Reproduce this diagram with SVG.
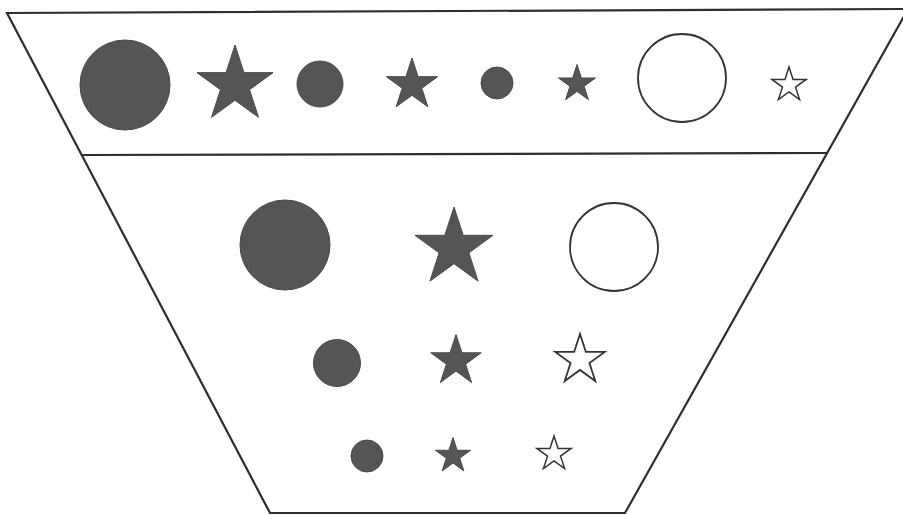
<svg xmlns="http://www.w3.org/2000/svg" width="903" height="515" viewBox="0 0 903 515">
<defs>
<style>
.frame{fill:none;stroke:#2e2e2e;stroke-width:2.2;stroke-linejoin:miter}
.fill{fill:#555555;stroke:#4a4a4a;stroke-width:1;vector-effect:non-scaling-stroke}
.open{fill:#ffffff;stroke:#333333;stroke-width:1.8;vector-effect:non-scaling-stroke}
.openthin{fill:#ffffff;stroke:#333333;stroke-width:1.5;vector-effect:non-scaling-stroke}
</style>
</defs>
<rect width="903" height="515" fill="#ffffff"/>
<g id="frame">
<path class="frame" d="M7,13 L908,9 L625,513 L270,513 Z"/>
<line class="frame" x1="82" y1="155" x2="827" y2="153"/>
</g>
<g id="top-row">
<g id="t1"><circle class="fill" cx="125" cy="85" r="45"/></g>
<g id="t2"><path class="fill" d="M0,-1 L0.2245,-0.309 L0.9511,-0.309 L0.3633,0.118 L0.5878,0.809 L0,0.382 L-0.5878,0.809 L-0.3633,0.118 L-0.9511,-0.309 L-0.2245,-0.309 Z" transform="translate(235,85) scale(40)"/></g>
<g id="t3"><circle class="fill" cx="320" cy="84" r="23"/></g>
<g id="t4"><path class="fill" d="M0,-1 L0.2245,-0.309 L0.9511,-0.309 L0.3633,0.118 L0.5878,0.809 L0,0.382 L-0.5878,0.809 L-0.3633,0.118 L-0.9511,-0.309 L-0.2245,-0.309 Z" transform="translate(412,85) scale(27)"/></g>
<g id="t5"><circle class="fill" cx="497" cy="83" r="16"/></g>
<g id="t6"><path class="fill" d="M0,-1 L0.2245,-0.309 L0.9511,-0.309 L0.3633,0.118 L0.5878,0.809 L0,0.382 L-0.5878,0.809 L-0.3633,0.118 L-0.9511,-0.309 L-0.2245,-0.309 Z" transform="translate(577,84) scale(19.5)"/></g>
<g id="t7"><circle class="open" cx="682" cy="78" r="44"/></g>
<g id="t8"><path class="openthin" d="M0,-1 L0.2245,-0.309 L0.9511,-0.309 L0.3633,0.118 L0.5878,0.809 L0,0.382 L-0.5878,0.809 L-0.3633,0.118 L-0.9511,-0.309 L-0.2245,-0.309 Z" transform="translate(789,85) scale(18)"/></g>
</g>
<g id="row-large">
<g id="l1"><circle class="fill" cx="285" cy="245" r="45"/></g>
<g id="l2"><path class="fill" d="M0,-1 L0.2245,-0.309 L0.9511,-0.309 L0.3633,0.118 L0.5878,0.809 L0,0.382 L-0.5878,0.809 L-0.3633,0.118 L-0.9511,-0.309 L-0.2245,-0.309 Z" transform="translate(454,248) scale(41)"/></g>
<g id="l3"><circle class="open" cx="614" cy="247" r="44"/></g>
</g>
<g id="row-medium">
<g id="m1"><circle class="fill" cx="337" cy="363" r="23.5"/></g>
<g id="m2"><path class="fill" d="M0,-1 L0.2245,-0.309 L0.9511,-0.309 L0.3633,0.118 L0.5878,0.809 L0,0.382 L-0.5878,0.809 L-0.3633,0.118 L-0.9511,-0.309 L-0.2245,-0.309 Z" transform="translate(456,361) scale(26.5)"/></g>
<g id="m3"><path class="open" d="M0,-1 L0.2245,-0.309 L0.9511,-0.309 L0.3633,0.118 L0.5878,0.809 L0,0.382 L-0.5878,0.809 L-0.3633,0.118 L-0.9511,-0.309 L-0.2245,-0.309 Z" transform="translate(580,360) scale(26)"/></g>
</g>
<g id="row-small">
<g id="s1"><circle class="fill" cx="367" cy="456" r="16"/></g>
<g id="s2"><path class="fill" d="M0,-1 L0.2245,-0.309 L0.9511,-0.309 L0.3633,0.118 L0.5878,0.809 L0,0.382 L-0.5878,0.809 L-0.3633,0.118 L-0.9511,-0.309 L-0.2245,-0.309 Z" transform="translate(453,456) scale(18.5)"/></g>
<g id="s3"><path class="openthin" d="M0,-1 L0.2245,-0.309 L0.9511,-0.309 L0.3633,0.118 L0.5878,0.809 L0,0.382 L-0.5878,0.809 L-0.3633,0.118 L-0.9511,-0.309 L-0.2245,-0.309 Z" transform="translate(554,454) scale(18)"/></g>
</g>
<g id="connectors"/>
</svg>
